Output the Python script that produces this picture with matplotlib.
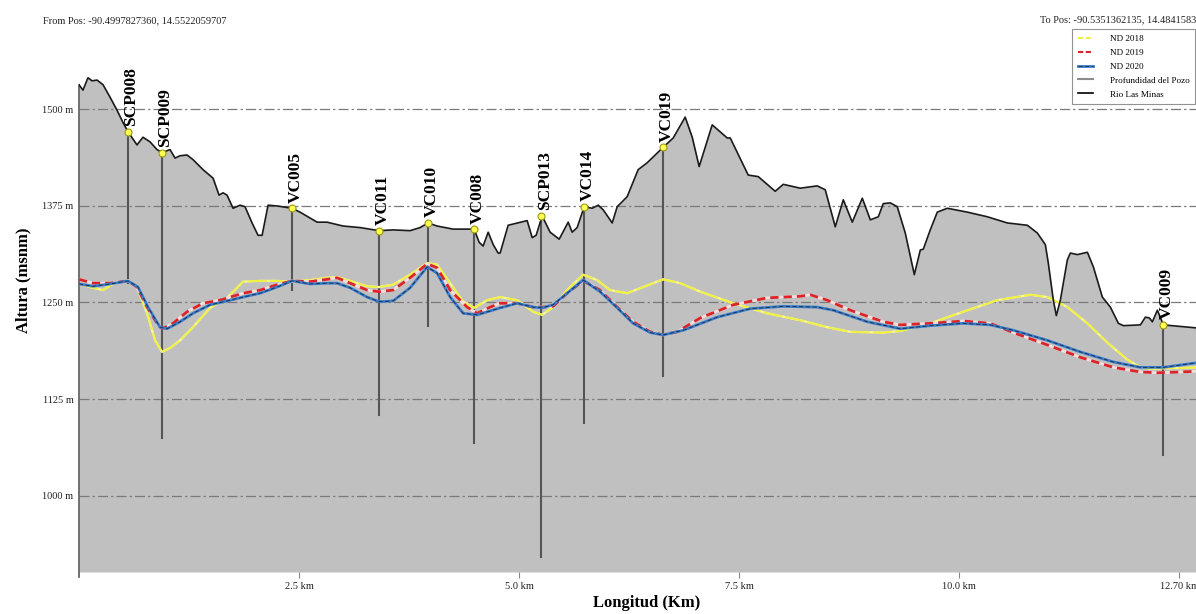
import matplotlib
matplotlib.use('Agg')
import matplotlib.pyplot as plt
from matplotlib.lines import Line2D

# perfil del terreno (km, msnm)
dist_km = [0.000, 0.045, 0.102, 0.148, 0.205, 0.273, 0.352, 0.432, 0.500, 0.557,
           0.659, 0.727, 0.807, 0.886, 0.943, 1.034, 1.091, 1.148, 1.227, 1.295,
           1.409, 1.523, 1.591, 1.636, 1.682, 1.750, 1.830, 1.886, 1.966, 2.034,
           2.080, 2.148, 2.250, 2.420, 2.511, 2.705, 2.818, 3.000, 3.193, 3.409,
           3.568, 3.761, 3.875, 3.966, 4.068, 4.250, 4.489, 4.545, 4.591, 4.648,
           4.705, 4.761, 4.784, 4.875, 5.091, 5.148, 5.193, 5.261, 5.352, 5.455,
           5.557, 5.602, 5.659, 5.739, 5.830, 5.898, 5.955, 6.057, 6.114, 6.227,
           6.352, 6.455, 6.636, 6.750, 6.886, 6.966, 7.045, 7.193, 7.364, 7.398,
           7.602, 7.716, 7.909, 8.000, 8.193, 8.386, 8.477, 8.591, 8.682, 8.784,
           8.898, 8.989, 9.080, 9.136, 9.216, 9.295, 9.386, 9.489, 9.557, 9.591,
           9.670, 9.750, 9.864, 10.091, 10.318, 10.545, 10.773, 10.886, 10.977, 11.011,
           11.068, 11.102, 11.148, 11.227, 11.261, 11.341, 11.455, 11.523, 11.625, 11.716,
           11.807, 11.864, 12.057, 12.114, 12.159, 12.193, 12.250, 12.318, 12.700]
terreno = [1532, 1525, 1541, 1537, 1538, 1532, 1516, 1499, 1483, 1471,
           1454, 1464, 1458, 1448, 1444, 1448, 1437, 1440, 1441, 1435,
           1422, 1411, 1389, 1392, 1389, 1372, 1376, 1374, 1353, 1337,
           1337, 1376, 1375, 1372, 1367, 1354, 1354, 1349, 1347, 1343,
           1344, 1343, 1347, 1353, 1349, 1345, 1345, 1328, 1323, 1341,
           1325, 1314, 1314, 1350, 1356, 1334, 1337, 1362, 1341, 1332,
           1354, 1341, 1347, 1374, 1372, 1376, 1370, 1353, 1374, 1387,
           1422, 1431, 1451, 1463, 1490, 1464, 1426, 1480, 1463, 1463,
           1415, 1413, 1394, 1403, 1398, 1401, 1396, 1348, 1383, 1354,
           1385, 1357, 1361, 1378, 1379, 1374, 1340, 1286, 1318, 1319,
           1344, 1367, 1372, 1367, 1361, 1353, 1350, 1340, 1325, 1301,
           1253, 1233, 1253, 1305, 1314, 1312, 1315, 1296, 1257, 1244,
           1223, 1220, 1221, 1231, 1230, 1225, 1240, 1221, 1217]

# niveles dinamicos
x_2018 = [0.000, 0.159, 0.273, 0.386, 0.557, 0.659, 0.773, 0.864, 0.943, 1.034,
          1.148, 1.295, 1.489, 1.682, 1.864, 2.057, 2.250, 2.420, 2.625, 2.818,
          2.932, 3.080, 3.273, 3.409, 3.568, 3.761, 3.955, 4.068, 4.216, 4.364,
          4.489, 4.636, 4.784, 4.977, 5.159, 5.261, 5.386, 5.545, 5.727, 5.886,
          6.034, 6.227, 6.409, 6.636, 6.830, 7.057, 7.432, 7.818, 8.193, 8.500,
          8.761, 9.136, 9.330, 9.670, 10.045, 10.432, 10.807, 11.000, 11.227, 11.455,
          11.682, 11.909, 12.057, 12.205, 12.318, 12.511, 12.700]
nd_2018 = [1274, 1269, 1266, 1274, 1279, 1270, 1236, 1201, 1186, 1191,
           1201, 1218, 1243, 1256, 1277, 1278, 1278, 1277, 1279, 1282,
           1283, 1278, 1271, 1270, 1273, 1286, 1301, 1299, 1275, 1251,
           1243, 1253, 1257, 1253, 1238, 1234, 1244, 1266, 1286, 1279,
           1266, 1262, 1270, 1280, 1275, 1264, 1249, 1236, 1227, 1218,
           1212, 1211, 1213, 1223, 1238, 1253, 1260, 1257, 1244, 1223,
           1198, 1176, 1166, 1164, 1165, 1165, 1166]

x_2019 = [0.000, 0.159, 0.352, 0.557, 0.659, 0.773, 0.886, 0.943, 1.068, 1.227,
          1.409, 1.602, 1.864, 2.057, 2.250, 2.420, 2.625, 2.818, 2.932, 3.080,
          3.273, 3.409, 3.568, 3.761, 3.955, 4.068, 4.216, 4.409, 4.523, 4.670,
          4.784, 4.977, 5.159, 5.261, 5.386, 5.545, 5.727, 5.920, 6.114, 6.295,
          6.489, 6.636, 6.795, 7.057, 7.432, 7.818, 8.193, 8.307, 8.500, 8.761,
          9.136, 9.330, 9.670, 10.045, 10.352, 10.614, 11.000, 11.375, 11.750, 12.057,
          12.250, 12.511, 12.700]
nd_2019 = [1280, 1275, 1275, 1278, 1270, 1244, 1223, 1216, 1223, 1238,
           1249, 1253, 1262, 1266, 1273, 1278, 1277, 1280, 1282, 1275,
           1266, 1264, 1266, 1282, 1300, 1295, 1266, 1244, 1236, 1244,
           1249, 1249, 1244, 1244, 1245, 1262, 1278, 1266, 1244, 1225,
           1212, 1208, 1212, 1230, 1247, 1256, 1258, 1260, 1253, 1240,
           1225, 1221, 1223, 1226, 1223, 1211, 1195, 1179, 1166, 1160,
           1159, 1160, 1161]

x_2020 = [0.000, 0.159, 0.352, 0.557, 0.670, 0.784, 0.920, 1.000, 1.148, 1.295,
          1.489, 1.682, 1.864, 2.057, 2.250, 2.420, 2.625, 2.818, 2.932, 3.080,
          3.273, 3.409, 3.568, 3.761, 3.955, 4.068, 4.216, 4.364, 4.523, 4.670,
          4.784, 4.977, 5.159, 5.261, 5.386, 5.545, 5.727, 5.920, 6.114, 6.295,
          6.489, 6.636, 6.864, 7.250, 7.625, 8.000, 8.386, 8.568, 8.955, 9.330,
          9.670, 10.045, 10.352, 10.614, 11.000, 11.375, 11.750, 12.057, 12.318, 12.511,
          12.700]
nd_2020 = [1274, 1271, 1274, 1278, 1270, 1244, 1218, 1216, 1225, 1236,
           1247, 1252, 1257, 1262, 1270, 1278, 1274, 1275, 1275, 1269,
           1257, 1251, 1252, 1269, 1296, 1288, 1257, 1236, 1234, 1239,
           1243, 1249, 1244, 1243, 1247, 1262, 1279, 1264, 1243, 1223,
           1211, 1208, 1214, 1231, 1242, 1245, 1244, 1240, 1225, 1216,
           1220, 1223, 1221, 1214, 1201, 1186, 1173, 1166, 1166, 1169,
           1172]

# pozos: nombre, posicion, cota de brocal, cota de fondo
pozos = ['SCP008', 'SCP009', 'VC005', 'VC011', 'VC010', 'VC008', 'SCP013', 'VC014', 'VC019', 'VC009']
pozo_x = [0.557, 0.943, 2.420, 3.409, 3.966, 4.489, 5.250, 5.739, 6.636, 12.318]
pozo_top = [1471, 1444, 1372, 1343, 1353, 1345, 1362, 1374, 1451, 1221]
pozo_fondo = [1275, 1074, 1266, 1104, 1220, 1068, 920, 1094, 1155, 1052]

y_ticks = [1000, 1125, 1250, 1375, 1500]
x_ticks = [2.5, 5.0, 7.5, 10.0, 12.5]
x_labels = ['2.5 km', '5.0 km', '7.5 km', '10.0 km', '12.70 km']

serif = ['Liberation Serif', 'DejaVu Serif']
plt.rcParams['font.family'] = serif

W, H = 1196, 614
fig = plt.figure(figsize=(W / 100, H / 100), dpi=100)
ax = fig.add_axes([79 / W, 1 - 572 / H, (1197 - 79) / W, (572 - 60) / H])
ymin, ymax = 901, 1564
ax.set_xlim(0, 12.70)
ax.set_ylim(ymin, ymax)

# terreno
ax.fill_between(dist_km, ymin, terreno, color='#c0c0c0', lw=0, zorder=1)

# lineas guia
for yv in y_ticks:
    ax.axhline(yv, color='#7a7a7a', lw=0.9, ls=(0, (8, 2.5, 1.8, 2.5)), zorder=2)

# pozos
for i in range(len(pozos)):
    ax.plot([pozo_x[i], pozo_x[i]], [pozo_top[i], pozo_fondo[i]], color='#555555', lw=1.5, zorder=3)

# niveles
ax.plot(x_2018, nd_2018, color='#fafaa0', lw=1.6, zorder=4)
ax.plot(x_2018, nd_2018, color='#f0f040', lw=1.4, ls=(0, (10, 1.5)), zorder=4)
ax.plot(x_2019, nd_2019, color='#f2dede', lw=2.0, zorder=4)
ax.plot(x_2019, nd_2019, color='#dc2428', lw=2.0, ls=(0, (3, 1.8)), zorder=4)
l20a, = ax.plot(x_2020, nd_2020, color='#3a7ccc', lw=2.0, zorder=4)
l20b, = ax.plot(x_2020, nd_2020, color='#1a2a3a', lw=0.6, ls=(0, (5, 3)), zorder=4)

ax.plot(dist_km, terreno, color='#1a1a1a', lw=1.2, zorder=5)

ax.plot(pozo_x, pozo_top, 'o', ms=5, mfc='#ffff55', mec='#9a9a10', mew=0.8, zorder=6)
for i in range(len(pozos)):
    ax.annotate(pozos[i], (pozo_x[i], pozo_top[i]), xytext=(2.5, 4), textcoords='offset points',
                rotation=90, ha='center', va='bottom', fontsize=12.5, fontweight='bold', zorder=7)

# ejes
for s in ['top', 'right', 'bottom']:
    ax.spines[s].set_visible(False)
ax.spines['left'].set_color('#666666')
ax.spines['left'].set_linewidth(1.3)
ax.spines['left'].set_bounds(ymin - 6, terreno[0])
ax.set_yticks(y_ticks)
ax.set_yticklabels([str(v) + ' m' for v in y_ticks])
ax.set_xticks(x_ticks)
ax.set_xticklabels(x_labels)
ax.tick_params(axis='y', length=0, pad=4, labelsize=7.5, labelcolor='#222222')
ax.tick_params(axis='x', length=4, width=0.8, color='#888888', pad=3, labelsize=7.5, labelcolor='#222222')

fig.text(43 / W, 1 - 21 / H, 'From Pos: -90.4997827360, 14.5522059707', fontsize=7.5, va='center', color='#222222')
fig.text(1040 / W, 1 - 20 / H, 'To Pos: -90.5351362135, 14.4841583480', fontsize=7.5, va='center', color='#222222')
fig.text(23 / W, 1 - 280 / H, 'Altura (msnm)', rotation=90, fontsize=12, fontweight='bold', ha='center', va='center')
fig.text(647 / W, 1 - 603 / H, 'Longitud (Km)', fontsize=12, fontweight='bold', ha='center', va='center')

handles = [Line2D([], [], color='#f0f040', lw=1.5, ls=(0, (2.5, 1.2))),
           Line2D([], [], color='#dc2428', lw=1.5, ls=(0, (2.5, 1.2))),
           (l20a, l20b),
           Line2D([], [], color='#8c8c8c', lw=1.5),
           Line2D([], [], color='black', lw=1.2)]
labels = ['ND 2018', 'ND 2019', 'ND 2020', 'Profundidad del Pozo', 'Rio Las Minas']
leg = fig.legend(handles, labels, loc='upper right', bbox_to_anchor=(1195 / W, 1 - 29 / H),
                 borderaxespad=0, fontsize=6.6, frameon=True, fancybox=False, edgecolor='#777777',
                 handlelength=1.7, handletextpad=1.8, labelspacing=0.6, borderpad=0.6)
leg.get_frame().set_linewidth(0.8)

fig.savefig('out.png', dpi=100)
